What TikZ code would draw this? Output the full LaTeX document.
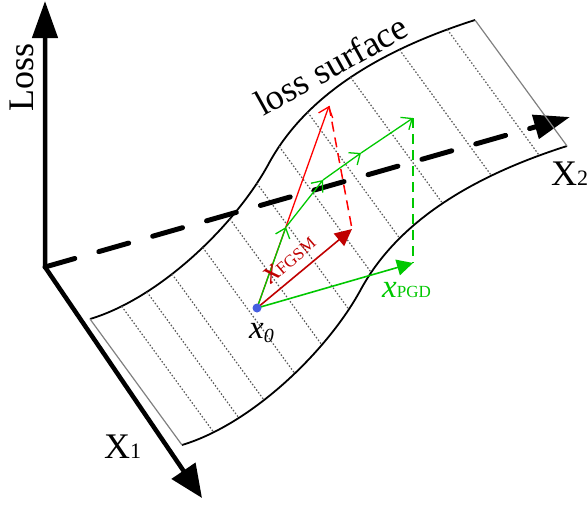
\documentclass[tikz,border=0pt]{standalone}
\usepackage{fontspec}
\setmainfont{Liberation Serif}
\usetikzlibrary{arrows.meta}
\definecolor{dred}{RGB}{192,0,0}
\definecolor{bred}{RGB}{255,0,0}
\definecolor{gr}{RGB}{0,200,0}
\definecolor{dotblue}{RGB}{70,95,225}
\begin{document}
\begin{tikzpicture}[x=1pt,y=-1pt,
  curve/.style={line width=1.8pt},
  sideedge/.style={draw=black!50, line width=1.2pt},
  rule/.style={draw=black!65, line width=1.2pt, dash pattern=on 1.5pt off 1.9pt},
  barb/.style={-{Straight Barb[length=9pt,width=15pt]}},
  thinred/.style={bred, line width=1.3pt},
  thingreen/.style={gr, line width=1.3pt},
  dashvec/.style={line width=1.5pt, dash pattern=on 10pt off 6pt},
  lbl/.style={inner sep=0pt, anchor=base west},
  big/.style={font=\fontsize{36}{40}\selectfont},
  xfont/.style={font=\fontsize{33}{36}\selectfont}
]
\useasboundingbox (0,0) rectangle (587,504);

% surface: upper edge, lower edge is the same curve shifted
\draw[curve] (90,319) .. controls (160,298) and (235,225) .. (268,165)
   coordinate[pos=0.15] (t1) coordinate[pos=0.27] (t2) coordinate[pos=0.393] (t3)
   coordinate[pos=0.553] (t4) coordinate[pos=0.71] (t5) coordinate[pos=0.9] (t6)
   .. controls (300,105) and (365,55) .. (475,20)
   coordinate[pos=0.105] (t7) coordinate[pos=0.31] (t8) coordinate[pos=0.54] (t9)
   coordinate[pos=0.745] (t10) coordinate[pos=0.913] (t11);
\draw[curve, shift={(92,126)}] (90,319) .. controls (160,298) and (235,225) .. (268,165)
   .. controls (300,105) and (365,55) .. (475,20);
\foreach \i in {1,...,11}
  \draw[rule] (t\i) -- ++(92,126);
\draw[sideedge] (90,319) -- ++(92,126);

% axes
\coordinate (O) at (45,267);
\coordinate (L) at (45,1);
\coordinate (X1) at (202,498);
\coordinate (X2) at (570,117);
\draw[line width=4.5pt, {Triangle[length=37pt,width=25pt]}-{Triangle[length=33pt,width=28pt]}] (L) -- (O) -- (X1);
\draw[line width=5pt, line cap=round, dash pattern=on 31pt off 25pt, -{Triangle[length=36pt,width=24pt]}] (O) -- (X2);
\draw[sideedge] (475,20) -- ++(92,126);

% vectors
\coordinate (x0) at (257,308);
\coordinate (R1) at (329,106);
\coordinate (R2) at (352,229);
\coordinate (G1) at (413,118);
\coordinate (G2) at (413,263);
\coordinate (A) at (286,227);
\coordinate (B) at (323,180);
\coordinate (C) at (361,153);
\draw[thinred, barb] (x0) -- (R1);
\draw[bred, dashvec] (R1) -- (R2);
\draw[gr, dashvec] (G1) -- (G2);
\draw[dred, line width=1.6pt, -{Triangle[length=17pt,width=16pt]}] (x0) -- (R2);
\draw[gr, line width=1.6pt, -{Triangle[length=16pt,width=16pt]}] (x0) -- (G2);
\draw[thingreen, barb] (x0) -- (A);
\draw[thingreen, barb] (A) -- (B);
\draw[thingreen, barb] (B) -- (C);
\draw[thingreen, barb] (C) -- (G1);
\fill[dotblue] (x0) circle (4.5pt);

% labels
\node[big, rotate=90, anchor=base, inner sep=0pt] (losslbl) at (33,77) {Loss};
\node[big, lbl, rotate=29] (surflbl) at (263,117) {loss surface};
\node[big, lbl] (x1lbl) at (104,458) {X{\fontsize{22}{24}\selectfont 1}};
\node[big, lbl] (x2lbl) at (551,185) {X{\fontsize{22}{24}\selectfont 2}};
\node[xfont, lbl] (x0lbl) at (249,338) {\textit{x}\raisebox{-4pt}{\fontsize{20}{20}\selectfont\textit{0}}};
\node[xfont, lbl, rotate=41, text=dred] (fgsmlbl) at (271,285) {\textit{x}{\fontsize{17}{17}\selectfont FGSM}};
\node[xfont, lbl, text=gr] (pgdlbl) at (382,297) {\textit{x}{\fontsize{17}{17}\selectfont PGD}};
\end{tikzpicture}
\end{document}
